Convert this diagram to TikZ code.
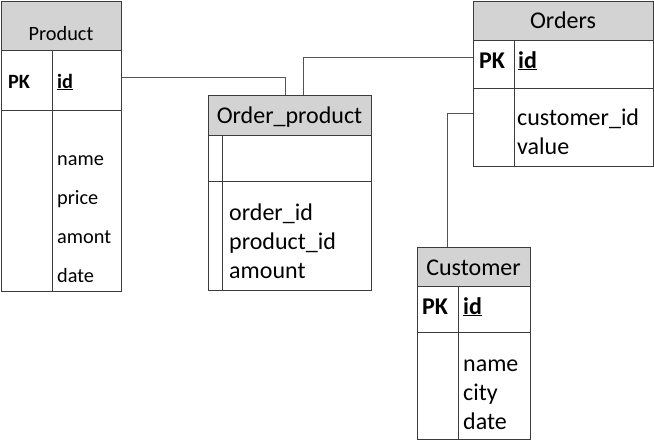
\documentclass[tikz,border=0pt]{standalone}
\usepackage{fontspec}
\setmainfont{Carlito}
\usepackage{tikz}
\usetikzlibrary{positioning, calc}
\definecolor{borderdark}{RGB}{60,60,60}
\definecolor{linkgray}{RGB}{85,85,85}
\definecolor{headgray}{RGB}{211,211,211}
\tikzset{
    cell/.style={rectangle, draw=borderdark, line width=0.9pt, inner sep=0pt,
                 anchor=north west},
    headcell/.style={cell, fill=headgray},
    smalltxt/.style={inner sep=0pt, anchor=base west, align=left,
                     font=\fontsize{20.3}{38.7}\selectfont},
    bigtxt/.style={inner sep=0pt, anchor=base west, align=left,
                   font=\fontsize{24}{28.8}\selectfont},
    link/.style={draw=linkgray, line width=1.3pt}
}

\begin{document}
\begin{tikzpicture}[x=1pt, y=-1pt]
    \useasboundingbox (0,0) rectangle (654,442);

    % Product
    \node[headcell, minimum width=120pt, minimum height=49pt] (prodhead) at (1,1) {};
    \node[cell, minimum width=51pt, minimum height=60pt] (prodpk) at (1,50) {};
    \node[cell, minimum width=69pt, minimum height=60pt] (prodid) at (52,50) {};
    \node[cell, minimum width=51pt, minimum height=181pt] (prodblank) at (1,110) {};
    \node[cell, minimum width=69pt, minimum height=181pt] (prodattr) at (52,110) {};
    \node[smalltxt, anchor=base] (prodname) at (61,40) {Product};
    \node[smalltxt] (prodpktxt) at (8,88) {\textbf{PK}};
    \node[smalltxt] (prodidtxt) at (57,88) {\textbf{\underline{id}}};
    % base of a multi-line node = last line
    \node[smalltxt] (prodattrtxt) at (57,282) {name\\price\\amont\\date};

    % Order_product
    \node[headcell, minimum width=163pt, minimum height=40pt] (ophead) at (208,95) {};
    \node[cell, minimum width=14pt, minimum height=46pt] (oppk) at (208,135) {};
    \node[cell, minimum width=149pt, minimum height=46pt] (opid) at (222,135) {};
    \node[cell, minimum width=14pt, minimum height=109pt] (opblank) at (208,181) {};
    \node[cell, minimum width=149pt, minimum height=109pt] (opattr) at (222,181) {};
    \node[bigtxt, anchor=base] (opname) at (289.5,123) {Order\_product};
    \node[bigtxt] (opattrtxt) at (229,278) {order\_id\\product\_id\\amount};

    % Orders
    \node[headcell, minimum width=180pt, minimum height=39pt] (ordershead) at (473,1) {};
    \node[cell, minimum width=41pt, minimum height=48pt] (orderspk) at (473,40) {};
    \node[cell, minimum width=139pt, minimum height=48pt] (ordersid) at (514,40) {};
    \node[cell, minimum width=41pt, minimum height=78pt] (ordersblank) at (473,88) {};
    \node[cell, minimum width=139pt, minimum height=78pt] (ordersattr) at (514,88) {};
    \node[bigtxt, anchor=base] (ordersname) at (563,28) {Orders};
    \node[bigtxt] (orderspktxt) at (479,68) {\textbf{PK}};
    \node[bigtxt] (ordersidtxt) at (518,68) {\textbf{\underline{id}}};
    \node[bigtxt] (ordersattrtxt) at (517,154) {customer\_id\\value};

    % Customer
    \node[headcell, minimum width=113pt, minimum height=39pt] (custhead) at (417,247) {};
    \node[cell, minimum width=41pt, minimum height=46pt] (custpk) at (417,286) {};
    \node[cell, minimum width=72pt, minimum height=46pt] (custid) at (458,286) {};
    \node[cell, minimum width=41pt, minimum height=107pt] (custblank) at (417,332) {};
    \node[cell, minimum width=72pt, minimum height=107pt] (custattr) at (458,332) {};
    \node[bigtxt, anchor=base] (custname) at (473.5,275) {Customer};
    \node[bigtxt] (custpktxt) at (422,314) {\textbf{PK}};
    \node[bigtxt] (custidtxt) at (463,314) {\textbf{\underline{id}}};
    \node[bigtxt] (custattrtxt) at (463,429) {name\\city\\date};

    % Links
    \draw[link] ([yshift=3pt]prodid.east) -| ([xshift=-4.5pt]ophead.north);
    \draw[link] ([xshift=13.5pt]ophead.north) |- ([yshift=7pt]orderspk.west);
    \draw[link] ([yshift=14pt]ordersblank.west) -| ([xshift=-26.5pt]custhead.north);
\end{tikzpicture}
\end{document}
